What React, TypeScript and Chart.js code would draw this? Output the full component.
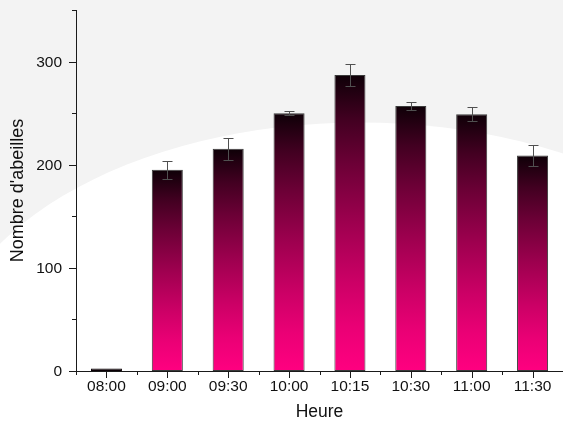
import React, { useEffect, useRef } from "react";
import { Chart, registerables } from "chart.js";

Chart.register(...registerables);

const categories: string[] = ["08:00", "09:00", "09:30", "10:00", "10:15", "10:30", "11:00", "11:30"];
const beeCounts: number[] = [2.5, 195, 215.5, 250, 287, 257, 249, 209];
const beeErrors: number[] = [0, 8.5, 10.5, 2, 10.5, 4, 6.5, 10.5];
const yTickStep = 50;
const yMax = 350;
const yLabelStep = 100;

const FONT = "'Liberation Sans', Arial, sans-serif";
const TICK_FONT_SIZE = 15.5;

const backgroundPlugin = {
  id: "bgShape",
  beforeDraw(chart: any) {
    const { ctx, width, height } = chart;
    ctx.save();
    ctx.fillStyle = "#f3f3f3";
    ctx.fillRect(0, 0, width, height);
    ctx.fillStyle = "#ffffff";
    ctx.beginPath();
    ctx.ellipse(width * 0.64, height * 0.865, width * 0.746, height * 0.58, 0, 0, Math.PI * 2);
    ctx.fill();
    ctx.restore();
  },
};

const errorBarPlugin = {
  id: "errorBars",
  afterDatasetsDraw(chart: any) {
    const { ctx } = chart;
    const meta = chart.getDatasetMeta(0);
    const yS = chart.scales.y;
    ctx.save();
    ctx.strokeStyle = "#505050";
    ctx.lineWidth = 1;
    meta.data.forEach((bar: any, i: number) => {
      const e = beeErrors[i];
      if (!e) return;
      const v = beeCounts[i];
      const x = Math.round(bar.x) + 0.5;
      const yt = Math.round(yS.getPixelForValue(v + e)) + 0.5;
      const yb = Math.round(yS.getPixelForValue(v - e)) + 0.5;
      ctx.beginPath();
      ctx.moveTo(x, yt);
      ctx.lineTo(x, yb);
      ctx.moveTo(x - 5, yt);
      ctx.lineTo(x + 5, yt);
      ctx.moveTo(x - 5, yb);
      ctx.lineTo(x + 5, yb);
      ctx.stroke();
    });
    ctx.restore();
  },
};

const tickPlugin = {
  id: "customTicks",
  afterDraw(chart: any) {
    const { ctx } = chart;
    const xS = chart.scales.x;
    const yS = chart.scales.y;
    const axisX = xS.left;
    const axisY = yS.bottom;
    ctx.save();
    ctx.strokeStyle = "#1a1a1a";
    ctx.lineWidth = 1;
    ctx.beginPath();
    yS.ticks.forEach((t: any) => {
      const py = Math.round(yS.getPixelForValue(t.value)) + 0.5;
      const len = t.value % yLabelStep === 0 ? 7 : 4;
      ctx.moveTo(axisX, py);
      ctx.lineTo(axisX - len, py);
    });
    categories.forEach((_, i) => {
      const px = Math.round(xS.getPixelForValue(i)) + 0.5;
      ctx.moveTo(px, axisY);
      ctx.lineTo(px, axisY + 7);
      const bx = Math.round(xS.getPixelForValue(i - 0.5)) + 0.5;
      ctx.moveTo(bx, axisY);
      ctx.lineTo(bx, axisY + 4);
    });
    ctx.stroke();
    ctx.fillStyle = "#111";
    ctx.font = `${TICK_FONT_SIZE}px ${FONT}`;
    ctx.textAlign = "right";
    ctx.textBaseline = "middle";
    yS.ticks.forEach((t: any) => {
      if (t.value % yLabelStep !== 0) return;
      const py = yS.getPixelForValue(t.value);
      ctx.fillText(String(t.value), axisX - 14, py + 1);
    });
    ctx.restore();
  },
};

function barGradient(c: any) {
  const chart = c.chart;
  if (!chart.chartArea || c.type !== "data") return "#ff0080";
  const yS = chart.scales.y;
  const v = beeCounts[c.dataIndex];
  const top = yS.getPixelForValue(v);
  const bot = yS.getPixelForValue(0);
  if (!isFinite(top) || !isFinite(bot) || bot - top < 6) return "#0a0005";
  const g = chart.ctx.createLinearGradient(0, top, 0, bot);
  g.addColorStop(0, "rgb(14,0,7)");
  g.addColorStop(0.15, "rgb(66,0,33)");
  g.addColorStop(0.3, "rgb(108,0,54)");
  g.addColorStop(0.5, "rgb(158,0,79)");
  g.addColorStop(0.7, "rgb(204,0,102)");
  g.addColorStop(0.85, "rgb(234,0,117)");
  g.addColorStop(1, "rgb(255,0,128)");
  return g;
}

function barBorder(c: any) {
  const v = beeCounts[c.dataIndex];
  return v < 5 ? "#0a0005" : "#3a3a3a";
}

export default function App() {
  const canvasRef = useRef<HTMLCanvasElement | null>(null);

  useEffect(() => {
    document.body.style.margin = "0";
    const canvas = canvasRef.current;
    if (!canvas) return;
    const chart = new Chart(canvas, {
      type: "bar",
      data: {
        labels: categories,
        datasets: [
          {
            label: "Nombre d'abeilles",
            data: beeCounts,
            backgroundColor: barGradient as any,
            borderColor: barBorder as any,
            borderWidth: 1,
            borderSkipped: false,
            categoryPercentage: 1,
            barPercentage: 0.51,
          },
        ],
      },
      options: {
        responsive: false,
        animation: false,
        devicePixelRatio: 1,
        layout: { padding: { top: 10, right: 0, left: 0, bottom: 0 } },
        plugins: {
          legend: { display: false },
          tooltip: { enabled: false },
        },
        scales: {
          x: {
            offset: true,
            grid: { display: false, drawTicks: false },
            border: { display: true, color: "#1a1a1a", width: 1 },
            ticks: {
              color: "#111",
              font: { family: FONT, size: TICK_FONT_SIZE },
              padding: 6,
              maxRotation: 0,
              autoSkip: false,
            },
            title: {
              display: true,
              text: "Heure",
              color: "#111",
              font: { family: FONT, size: 17.5 },
              padding: { top: 0, bottom: 7 },
            },
            afterFit: (s: any) => {
              s.height = 59;
            },
          },
          y: {
            min: 0,
            max: yMax,
            grid: { display: false, drawTicks: false },
            border: { display: true, color: "#1a1a1a", width: 1 },
            ticks: {
              stepSize: yTickStep,
              display: false,
            },
            title: {
              display: true,
              text: "Nombre d'abeilles",
              color: "#111",
              font: { family: FONT, size: 18 },
              padding: { top: 7, bottom: 0 },
            },
            afterFit: (s: any) => {
              s.width = 76;
            },
          },
        },
      },
      plugins: [backgroundPlugin, errorBarPlugin, tickPlugin],
    });
    return () => chart.destroy();
  }, []);

  return (
    <div style={{ width: 563, height: 430 }}>
      <canvas ref={canvasRef} width={563} height={430} style={{ display: "block", width: 563, height: 430 }} />
    </div>
  );
}
